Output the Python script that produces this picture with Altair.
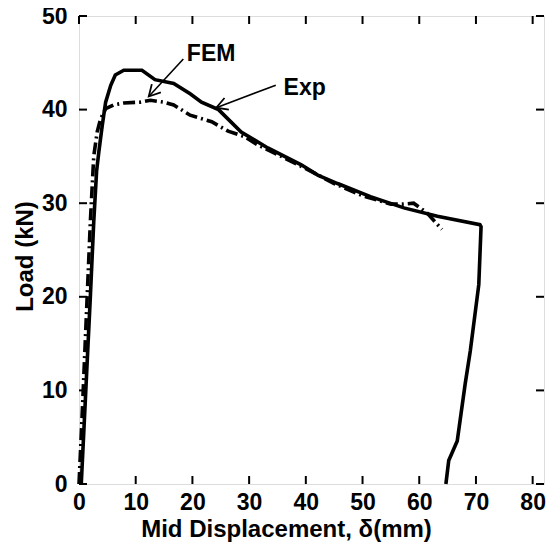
import math
import altair as alt
import pandas as pd

# ---- data ----
exp_x = [0.4, 1.2, 2.0, 2.6, 3.1, 3.5, 4.1, 4.7, 5.6, 6.4, 7.9, 11.1, 13.4, 16.7, 19.6, 21.6,
         24.6, 28.6, 33.3, 39.2, 42.1, 45.6, 51.4, 57.3, 63.2, 70.7, 70.9, 70.5, 69.0, 68.1,
         66.7, 65.2, 64.7]
exp_y = [0.0, 10.0, 20.0, 28.0, 33.4, 35.5, 38.3, 40.8, 42.6, 43.7, 44.2, 44.2, 43.2, 42.8,
         41.7, 40.8, 40.0, 37.6, 35.9, 34.1, 33.0, 32.1, 30.7, 29.5, 28.6, 27.7, 27.5, 21.3,
         14.2, 10.7, 4.6, 2.5, 0.0]

fem_x = [0.0, 0.6, 1.3, 2.0, 2.6, 3.2, 3.8, 4.7, 6.1, 7.9, 10.8, 12.6, 14.9, 16.7, 19.6,
         23.4, 26.3, 29.2, 31.6, 35.0, 40.0, 45.0, 50.0, 55.0, 57.0, 59.0, 61.3, 62.5, 64.0]
fem_y = [0.0, 8.0, 18.0, 28.0, 35.0, 37.6, 39.0, 40.1, 40.5, 40.7, 40.8, 41.0, 40.8, 40.5,
         39.4, 38.7, 37.7, 37.1, 36.2, 35.2, 33.7, 32.1, 30.8, 29.9, 29.9, 30.0, 29.0, 28.2,
         27.2]

x_ticks = [0, 10, 20, 30, 40, 50, 60, 70, 80]
y_ticks = [0, 10, 20, 30, 40, 50]

labels = ["FEM", "Exp"]
label_x = [23.3, 39.8]
label_y = [45.9, 42.3]
arrow_tail_x = [18.4, 34.7]
arrow_tail_y = [45.4, 42.6]
arrow_tip_x = [12.3, 24.2]
arrow_tip_y = [41.4, 40.2]

# ---- layout / style ----
W, H = 465, 468
XMAX, YMAX = 82, 50
FONT = "Liberation Sans"
TICK = 8

xs = alt.Scale(domain=[0, XMAX], nice=False)
ys = alt.Scale(domain=[0, YMAX], nice=False)

X_ENC = alt.X("x:Q", scale=xs, axis=alt.Axis(
    values=x_ticks, ticks=False, domain=False, grid=False, labelFlush=False,
    labelFont=FONT, labelFontSize=23, labelFontWeight="bold", labelColor="black",
    labelPadding=7, title="Mid Displacement, δ(mm)", titleFont=FONT,
    titleFontSize=24, titleFontWeight="bold", titleColor="black",
    titleX=207, titleY=52, titleAlign="center", titleBaseline="alphabetic"))
Y_ENC = alt.Y("y:Q", scale=ys, axis=alt.Axis(
    values=y_ticks, ticks=False, domain=False, grid=False, labelFlush=False,
    labelFont=FONT, labelFontSize=23, labelFontWeight="bold", labelColor="black",
    labelPadding=12, title="Load (kN)", titleFont=FONT, titleFontSize=24,
    titleFontWeight="bold", titleColor="black",
    titleX=-47, titleY=240, titleAngle=270, titleAlign="center",
    titleBaseline="alphabetic"))

exp_df = pd.DataFrame({"x": exp_x, "y": exp_y, "i": list(range(len(exp_x)))})
fem_df = pd.DataFrame({"x": fem_x, "y": fem_y, "i": list(range(len(fem_x)))})
xt_df = pd.DataFrame({"x": x_ticks})
yt_df = pd.DataFrame({"y": y_ticks})
lab_df = pd.DataFrame({"x": label_x, "y": label_y, "t": labels})

sx = W / XMAX
sy = H / YMAX
angles = [math.degrees(math.atan2(-(ty - sy0) * sy, (tx - sx0) * sx))
          for tx, ty, sx0, sy0 in zip(arrow_tip_x, arrow_tip_y, arrow_tail_x, arrow_tail_y)]
arr_df = pd.DataFrame({"x": arrow_tail_x, "y": arrow_tail_y,
                       "x2": arrow_tip_x, "y2": arrow_tip_y,
                       "tx": arrow_tip_x, "ty": arrow_tip_y, "a": angles})

exp_line = alt.Chart(exp_df).mark_line(color="black", strokeWidth=3.6).encode(
    x=X_ENC, y=Y_ENC, order="i:Q")
fem_line = alt.Chart(fem_df).mark_line(color="black", strokeWidth=3.6,
                                       strokeDash=[12, 4, 2, 4]).encode(
    x=X_ENC, y=Y_ENC, order="i:Q")

tick_b = alt.Chart(xt_df).mark_rule(color="black", strokeWidth=2).encode(
    x=X_ENC, y=alt.value(H), y2=alt.value(H - TICK))
tick_t = alt.Chart(xt_df).mark_rule(color="black", strokeWidth=2).encode(
    x=X_ENC, y=alt.value(0), y2=alt.value(TICK))
tick_l = alt.Chart(yt_df).mark_rule(color="black", strokeWidth=2).encode(
    y=Y_ENC, x=alt.value(0), x2=alt.value(TICK))
tick_r = alt.Chart(yt_df).mark_rule(color="black", strokeWidth=2).encode(
    y=Y_ENC, x=alt.value(W), x2=alt.value(W - TICK))

arrows = alt.Chart(arr_df).mark_rule(color="black", strokeWidth=1.6).encode(
    x=X_ENC, y=Y_ENC, x2="x2:Q", y2="y2:Q")
heads = alt.Chart(arr_df).mark_point(
    shape="M-1,-0.55L0,0L-1,0.55", filled=False, color="black", strokeWidth=1.8,
    size=500, opacity=1).encode(
    x=alt.X("tx:Q", scale=xs), y=alt.Y("ty:Q", scale=ys), angle=alt.Angle("a:Q", scale=None))

texts = alt.Chart(lab_df).mark_text(font=FONT, fontSize=23, fontWeight="bold",
                                    color="black", align="center",
                                    baseline="middle").encode(
    x=X_ENC, y=Y_ENC, text="t:N")

chart = alt.layer(exp_line, fem_line, tick_b, tick_t, tick_l, tick_r,
                  arrows, heads, texts).properties(
    width=W, height=H,
    autosize=alt.AutoSizeParams(type="none"),
    padding={"left": 71, "top": 8, "right": 2, "bottom": 58},
).configure_view(stroke="black", strokeWidth=3).configure(background="white")

chart.save("out.html", embed_options={"renderer": "svg", "actions": False})
